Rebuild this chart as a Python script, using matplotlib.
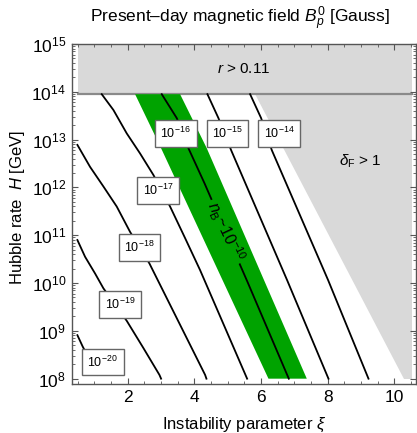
import matplotlib
matplotlib.use("Agg")
import matplotlib.pyplot as plt
import numpy as np
from matplotlib.ticker import FixedLocator, MultipleLocator, NullFormatter

plt.rcParams['font.family'] = ['Liberation Sans', 'DejaVu Sans']
plt.rcParams['mathtext.fontset'] = 'custom'
plt.rcParams['mathtext.rm'] = 'Liberation Sans'
plt.rcParams['mathtext.it'] = 'Liberation Sans:italic'
plt.rcParams['mathtext.bf'] = 'Liberation Sans:bold'

# contour lines of B_p^0: (xi, log10 H) along each curve
xi_m20 = [0.49, 0.65, 1.10]
lh_m20 = [8.91, 8.67, 8.08]
xi_m19 = [0.49, 0.72, 1.02, 1.27, 1.97, 2.47, 2.95, 3.00]
lh_m19 = [10.90, 10.55, 10.20, 9.89, 9.21, 8.64, 8.08, 8.00]
xi_m18 = [0.49, 0.87, 1.27, 1.67, 2.07, 2.65, 4.32, 4.36]
lh_m18 = [12.89, 12.43, 12.02, 11.60, 11.07, 10.41, 8.08, 8.00]
xi_m17 = [1.22, 1.57, 1.97, 2.37, 2.77, 3.27, 3.72, 4.17, 5.58]
lh_m17 = [13.95, 13.62, 13.13, 12.71, 12.26, 11.60, 10.94, 10.27, 8.00]
xi_m16 = [3.02, 3.47, 3.82, 4.30, 5.60, 6.83]
lh_m16 = [13.95, 13.45, 12.82, 12.09, 10.01, 8.00]
xi_m15 = [4.39, 4.72, 5.10, 6.78, 8.02]
lh_m15 = [13.95, 13.45, 12.78, 10.06, 8.00]
xi_m14 = [5.67, 6.00, 6.32, 8.01, 9.22]
lh_m14 = [13.95, 13.45, 12.78, 10.06, 8.00]

contours = [
    (xi_m20, lh_m20, r'$10^{-20}$', 1.25, 8.35),
    (xi_m19, lh_m19, r'$10^{-19}$', 1.77, 9.55),
    (xi_m18, lh_m18, r'$10^{-18}$', 2.35, 10.74),
    (xi_m17, lh_m17, r'$10^{-17}$', 2.90, 11.94),
    (xi_m16, lh_m16, r'$10^{-16}$', 3.44, 13.13),
    (xi_m15, lh_m15, r'$10^{-15}$', 4.99, 13.13),
    (xi_m14, lh_m14, r'$10^{-14}$', 6.54, 13.13),
]

# n_B ~ 1e-10 band edges
band_lh = [13.95, 12.82, 8.00]
band_left = [2.22, 3.00, 6.22]
band_right = [3.57, 4.37, 7.37]

# excluded regions
xi_min, xi_max = 0.5, 10.52
lh_r_bound, lh_top = 13.95, 15.0
deltaF_xi = [5.82, 10.52, 10.52, 10.28]
deltaF_lh = [13.95, 13.95, 8.00, 8.00]

x_ticks = [2, 4, 6, 8, 10]
y_decades = np.arange(8, 16)

fig = plt.figure(figsize=(4.17, 4.33), dpi=100)
ax = fig.add_axes([0.172, 0.1132, 0.8256, 0.7852])
ax.set_yscale('log')

gray = '#d9d9d9'
green = '#00a300'

# r > 0.11 region
ax.fill_between([xi_min, xi_max], 10**lh_r_bound, 10**lh_top, color=gray, lw=0, zorder=1)
ax.plot([xi_min, xi_max], [10**lh_r_bound] * 2, color='#8a8a8a', lw=1.6, zorder=2)

# delta_F > 1 region
ax.fill(deltaF_xi, 10**np.array(deltaF_lh), color=gray, lw=0, zorder=1)

# green band
ax.fill(band_left + band_right[::-1], 10**np.array(band_lh + band_lh[::-1]),
        color=green, lw=0, zorder=2)

for xs, lhs, lab, lx, ly in contours:
    ax.plot(xs, 10**np.array(lhs), color='black', lw=1.3, zorder=3)
    ax.text(lx, 10**ly, lab, fontsize=9, ha='center', va='center', zorder=5,
            bbox=dict(boxstyle='square,pad=0.45', fc='white', ec='#666666', lw=1.0))

ax.text(4.92, 10**11.07, r'$n_{\rm B}$~$10^{-10}$', fontsize=11.5, rotation=-65,
        ha='center', va='center', zorder=5,
        bbox=dict(boxstyle='square,pad=0.15', fc=green, ec='none'))

ax.text(5.47, 10**14.48, r'$r$ > 0.11', fontsize=11, ha='center', va='center', zorder=5)
ax.text(8.97, 10**12.54, r'$\delta_{\rm F}$ > 1', fontsize=11, ha='center', va='center', zorder=5)

ax.set_xlim(0.32, 10.645)
ax.set_ylim(10**7.889, 10**15.0)

ax.xaxis.set_major_locator(FixedLocator(x_ticks))
ax.xaxis.set_minor_locator(MultipleLocator(0.5))
ax.yaxis.set_major_locator(FixedLocator(10.0**y_decades))
ax.yaxis.set_minor_locator(FixedLocator(
    [m * 10.0**d for d in y_decades[:-1] for m in range(2, 10)]))
ax.yaxis.set_minor_formatter(NullFormatter())

ax.tick_params(which='both', direction='in', top=True, right=True,
               color='#555555', labelsize=12.5, pad=4)
ax.tick_params(which='major', length=4, width=0.8)
ax.tick_params(which='minor', length=2, width=0.6)
for sp in ax.spines.values():
    sp.set_color('#555555')
    sp.set_linewidth(1.0)

fig.text(240 / 417, 1 - 19 / 433, r'Present–day magnetic field $B_p^0$ [Gauss]',
         ha='center', va='center', fontsize=12.5)
fig.text(244 / 417, 1 - 425 / 433, r'Instability parameter $\xi$',
         ha='center', va='center', fontsize=12)
fig.text(18 / 417, 1 - 207 / 433, r'Hubble rate  $H$ [GeV]',
         ha='center', va='center', rotation=90, fontsize=12)

fig.savefig('out.png', dpi=100)
